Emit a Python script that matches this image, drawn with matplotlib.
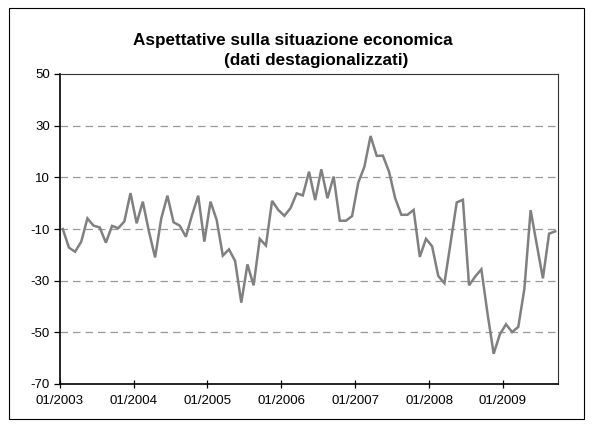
import matplotlib
matplotlib.use("Agg")
import matplotlib.pyplot as plt
from matplotlib.patches import Rectangle

plt.rcParams['font.family'] = ['Liberation Sans', 'DejaVu Sans']

title_line1 = "Aspettative sulla situazione economica"
title_line2 = "(dati destagionalizzati)"
tick_labels = ["01/2003", "01/2004", "01/2005", "01/2006", "01/2007", "01/2008", "01/2009"]
values = [
    -10, -17.2, -18.8, -14.9, -5.9, -8.7, -9.4, -15.3, -8.8, -9.7, -7.1, 3.9,
    -7.8, 0.6, -11, -21, -5.9, 2.9, -7.4, -8.7, -13, -4.6, 2.9, -14.9,
    0.6, -6.5, -20.3, -17.9, -22.4, -38.5, -23.7, -31.8, -13.8, -16.4, 0.9, -2.6,
    -4.9, -1.9, 3.8, 3.0, 12.2, 1.2, 13.1, 1.9, 10.3, -6.8, -6.8, -5,
    7.9, 14.1, 26, 18.3, 18.4, 12.2, 1.9, -4.5, -4.5, -2.6, -20.8, -13.8,
    -16.7, -28.2, -31, -15.4, 0.3, 1.3, -31.8, -28.4, -25.6, -42.7, -58.3, -50.8,
    -46.9, -49.9, -47.9, -33, -2.7, -16, -29.1, -11.8, -10.9,
]
y_ticks = [-70, -50, -30, -10, 10, 30, 50]

W, H = 592, 424
fig = plt.figure(figsize=(W / 100, H / 100), dpi=100)
fig.patch.set_facecolor("white")

# outer chart border
fig.add_artist(Rectangle((9 / W, 1 - 419 / H), (584 - 9) / W, (419 - 8) / H,
                         transform=fig.transFigure, fill=False,
                         edgecolor="black", linewidth=0.8))

left, right, top, bottom = 59.7, 558.3, 74, 384
ax = fig.add_axes([left / W, 1 - bottom / H, (right - left) / W, (bottom - top) / H])

x = list(range(len(values)))
ax.plot(x, values, color="#808080", linewidth=1.8, solid_joinstyle="miter")

ax.set_xlim(-0.5, len(values) - 0.5)
ax.set_ylim(-70, 50)
ax.set_yticks(y_ticks)
ax.set_yticklabels([str(v) for v in y_ticks], fontsize=9.5)
ax.set_xticks([-0.5 + 12 * i for i in range(len(tick_labels))])
ax.set_xticklabels(tick_labels, fontsize=9.5)

for v in y_ticks:
    if -70 < v < 50:
        ax.axhline(v, color="#999999", linewidth=0.9, dashes=(6, 4), zorder=0)

for s in ["top", "right"]:
    ax.spines[s].set_color("#333333")
    ax.spines[s].set_linewidth(0.8)
for s in ["left", "bottom"]:
    ax.spines[s].set_color("black")
    ax.spines[s].set_linewidth(1.2)

ax.tick_params(axis="y", direction="out", length=4, width=0.9, pad=3)
ax.tick_params(axis="x", direction="inout", length=6, width=0.9, pad=5)

fig.text(293 / W, 1 - 41 / H, title_line1, ha="center", va="center",
         fontsize=12.3, fontweight="bold")
fig.text(316 / W, 1 - 61 / H, title_line2, ha="center", va="center",
         fontsize=12.3, fontweight="bold")

fig.savefig("out.png", dpi=100)
